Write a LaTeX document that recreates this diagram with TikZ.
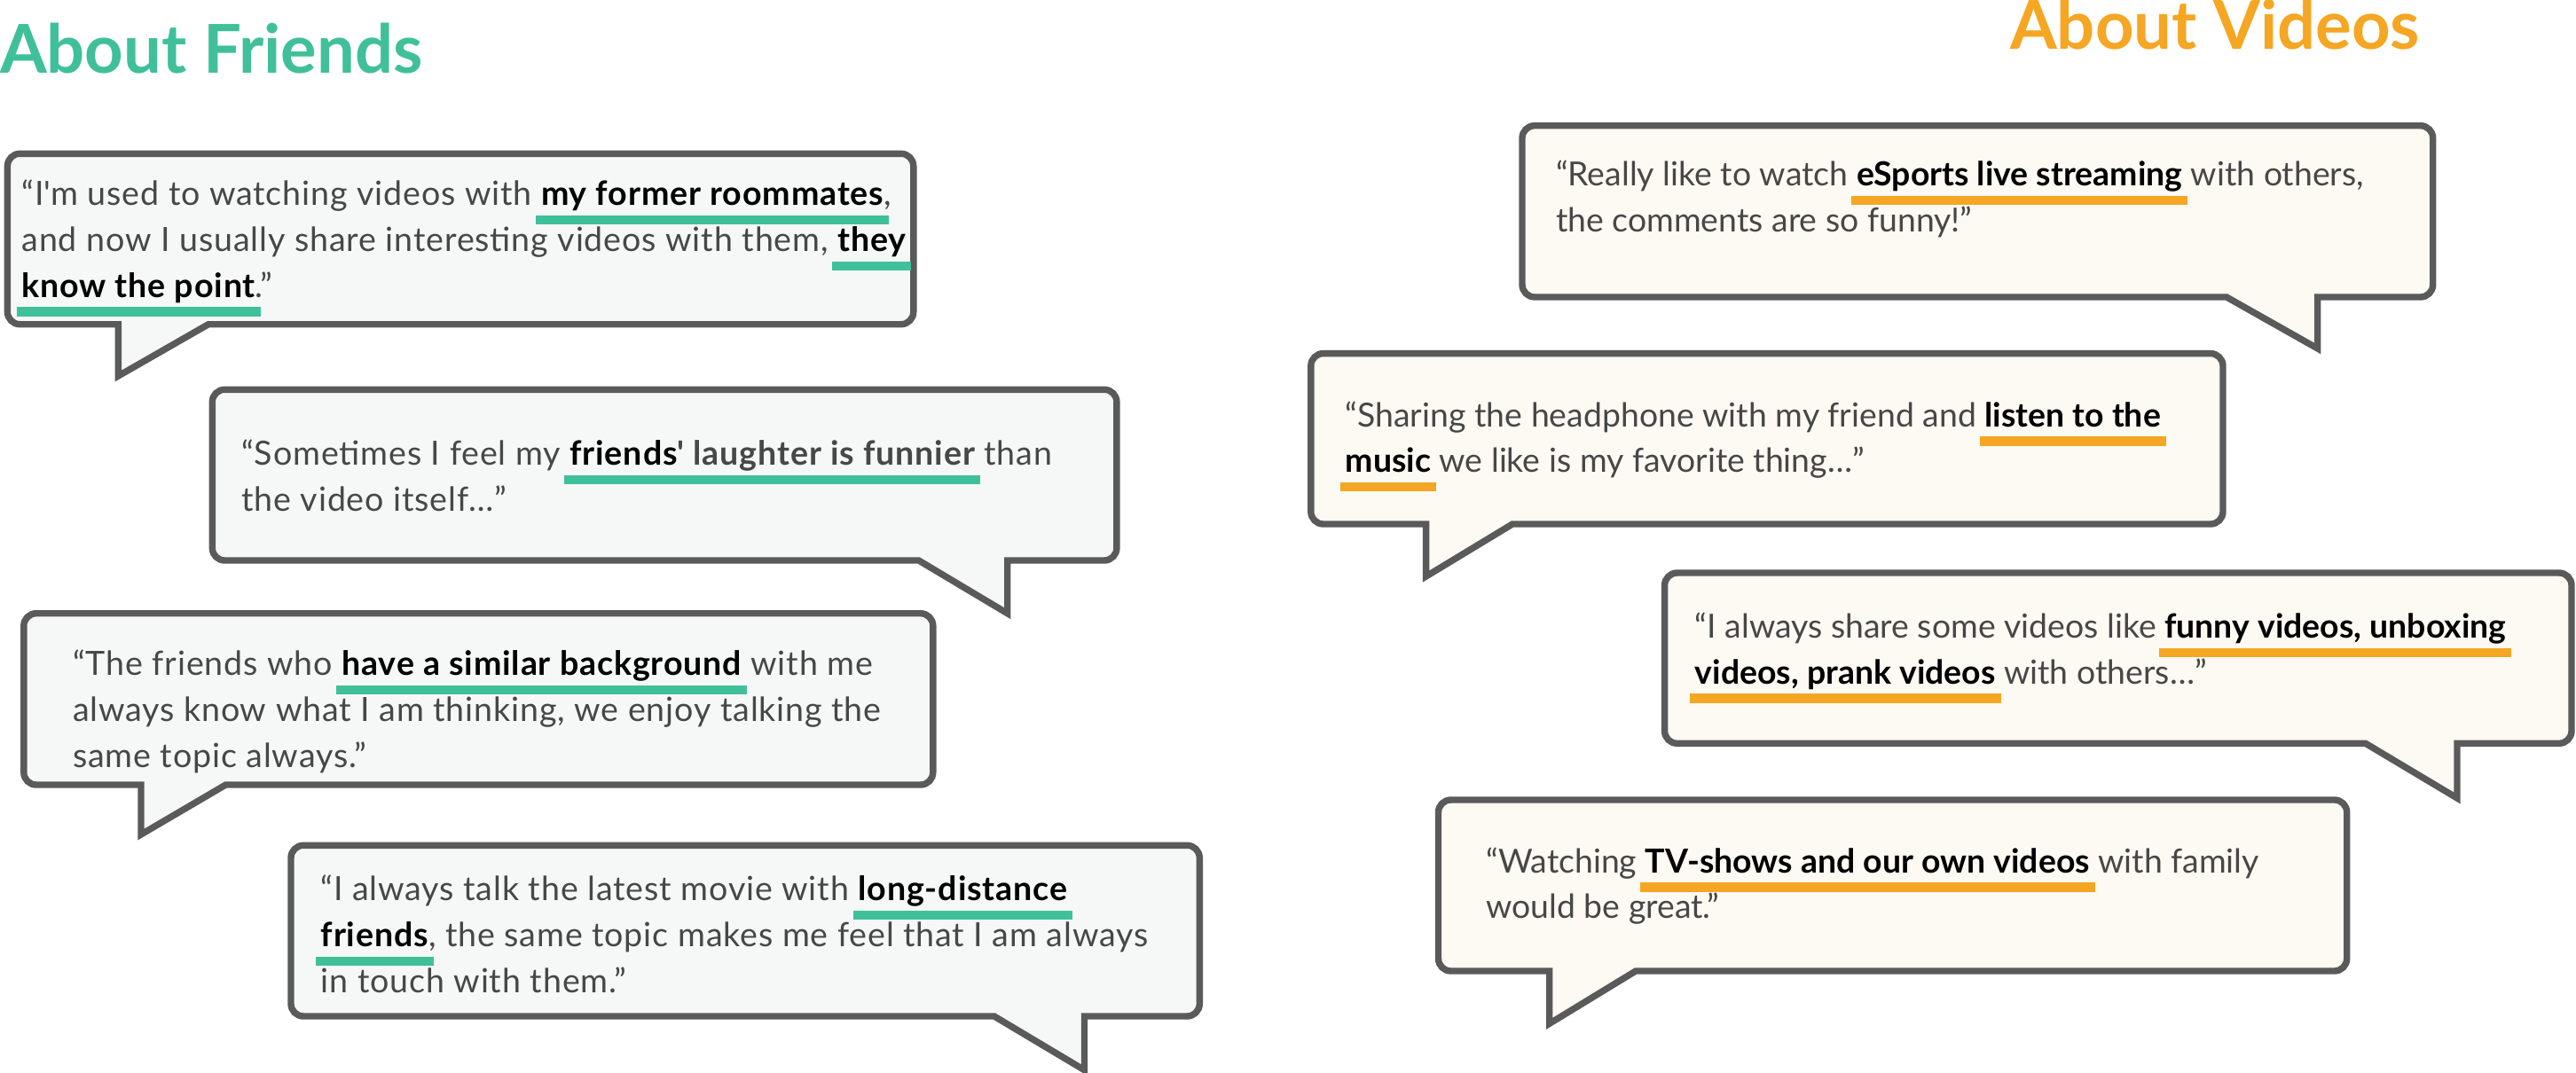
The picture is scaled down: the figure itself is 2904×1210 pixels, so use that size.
\documentclass[tikz,border=0pt]{standalone}
\usepackage{fontspec}
\setmainfont{Lato}
\newfontfamily\friendfont[LetterSpace=2.3]{Lato}
\definecolor{friendgreen}{HTML}{40C09A}
\definecolor{videoorange}{HTML}{F5A623}
\definecolor{bubbleline}{HTML}{5A5A5A}
\definecolor{friendfill}{HTML}{F5F8F7}
\definecolor{videofill}{HTML}{FDF9F3}
\definecolor{quotegray}{HTML}{474747}
\newcommand\hilite[2]{{\setbox0\hbox{{#2}}\rlap{{\kern-1.5pt\color{#1}\rule[-5.4pt]{\dimexpr\wd0+3pt\relax}{2.6pt}}}\box0}}
\newcommand\fhl[1]{\hilite{friendgreen}{\bfseries\color{black}#1}}
\newcommand\vhl[1]{\hilite{videoorange}{\bfseries\color{black}#1}}

\begin{document}
\begin{tikzpicture}[x=0.25pt,y=-0.25pt]
\tikzstyle{every node}=[inner sep=0pt, outer sep=0pt]
\tikzstyle{fquote}=[anchor=base west, align=left, text=quotegray, font=\friendfont\fontsize{9.4pt}{12.9pt}\selectfont]
\tikzstyle{vquote}=[anchor=base west, align=left, text=quotegray, font=\fontsize{9.35pt}{12.9pt}\selectfont]
\tikzstyle{title}=[anchor=base west, font=\fontsize{19pt}{19pt}\selectfont\bfseries]
\tikzstyle{fbubble}=[draw=bubbleline, line width=1.85pt, fill=friendfill, rounded corners=3.5pt]
\tikzstyle{vbubble}=[draw=bubbleline, line width=1.85pt, fill=videofill, rounded corners=3.5pt]
\useasboundingbox (0,0) rectangle (2904,1210);
\node (friends) [title, text=friendgreen] at (0,82.7) {About Friends};
\node (videos) [title, text=videoorange] at (2266,55.4) {About Videos};
\draw[fbubble] (8.4,173.3) -- (1029.8,173.3) -- (1029.8,365.7) [sharp corners] -- (235,365.7) -- (133.3,424) -- (133.3,365.7) [rounded corners=3.5pt] -- (8.4,365.7) -- cycle;
\draw[fbubble] (239.3,439.3) -- (1258.9,439.3) -- (1258.9,632) [sharp corners] -- (1135.7,632) -- (1135.7,691.7) -- (1035.7,632) [rounded corners=3.5pt] -- (239.3,632) -- cycle;
\draw[fbubble] (26.8,691.7) -- (1051.8,691.7) -- (1051.8,885) [sharp corners] -- (254.5,885) -- (159,941) -- (159,885) [rounded corners=3.5pt] -- (26.8,885) -- cycle;
\draw[fbubble] (328,953.3) -- (1352.3,953.3) -- (1352.3,1146) [sharp corners] -- (1222.5,1146) -- (1222.5,1206.7) -- (1120.8,1146) [rounded corners=3.5pt] -- (328,1146) -- cycle;
\draw[vbubble] (1716,141.7) -- (2742.7,141.7) -- (2742.7,335) [sharp corners] -- (2612.7,335) -- (2612.7,393) -- (2510,335) [rounded corners=3.5pt] -- (1716,335) -- cycle;
\draw[vbubble] (1477.8,398.6) -- (2506,398.6) -- (2506,591) [sharp corners] -- (1705,591) -- (1607.6,650) -- (1607.6,591) [rounded corners=3.5pt] -- (1477.8,591) -- cycle;
\draw[vbubble] (1876.6,646) -- (2899,646) -- (2899,838.3) [sharp corners] -- (2770,838.3) -- (2770,900) -- (2666.7,838.3) [rounded corners=3.5pt] -- (1876.6,838.3) -- cycle;
\draw[vbubble] (1621.5,902) -- (2645.7,902) -- (2645.7,1095) [sharp corners] -- (1844,1095) -- (1746.7,1154.3) -- (1746.7,1095) [rounded corners=3.5pt] -- (1621.5,1095) -- cycle;
\node (f1) [fquote] at (24.6,335) {“I\textquotesingle m used to watching videos with \fhl{my former roommates},\\and now I usually share interesting videos with them, \fhl{they}\\\fhl{know the point}.”};
\node (f2) [fquote] at (272.3,576.3) {“Sometimes I feel my \hilite{friendgreen}{\bfseries\color{black}friends\color{quotegray}\textquotesingle{} laughter is funnier} than\\the video itself…”};
\node (f3) [fquote] at (82,865) {“The friends who \fhl{have a similar background} with me\\always know what I am thinking, we enjoy talking the\\same topic always.”};
\node (f4) [fquote] at (361.7,1119) {“I always talk the latest movie with \fhl{long-distance}\\\fhl{friends}, the same topic makes me feel that I am always\\in touch with them.”};
\node (v1) [vquote] at (1754,261.2) {“Really like to watch \vhl{eSports live streaming} with others,\\the comments are so funny!”};
\node (v2) [vquote] at (1516.8,532.6) {“Sharing the headphone with my friend and \vhl{listen to the}\\\vhl{music} we like is my favorite thing…”};
\node (v3) [vquote] at (1910.9,771) {“I always share some videos like \vhl{funny videos, unboxing}\\\vhl{videos, prank videos} with others…”};
\node (v4) [vquote] at (1675.3,1035.8) {“Watching \vhl{TV-shows and our own videos} with family\\would be great.”};
\end{tikzpicture}
\end{document}
